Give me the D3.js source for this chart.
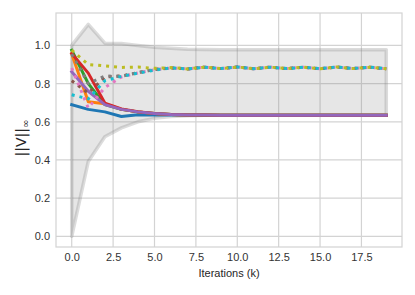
<!DOCTYPE html>
<html><head><meta charset="utf-8">
<script src="https://cdn.jsdelivr.net/npm/d3@7"></script>
<style>body{margin:0;background:#fff}svg{display:block}</style>
</head><body>
<svg id="c" width="415" height="295"></svg>
<script>
const iterations = d3.range(0, 20);
const xTicks = [0, 2.5, 5, 7.5, 10, 12.5, 15, 17.5];
const yTicks = [0, 0.2, 0.4, 0.6, 0.8, 1.0];

const bandUpper = [1.0, 1.11, 1.012, 1.01, 1.0, 0.99, 0.985, 0.98, 0.979, 0.978, 0.978, 0.978, 0.978, 0.978, 0.978, 0.978, 0.978, 0.978, 0.978, 0.978];
const bandLower = [0.0, 0.392, 0.522, 0.568, 0.6, 0.618, 0.628, 0.632, 0.634, 0.634, 0.634, 0.634, 0.634, 0.634, 0.634, 0.634, 0.634, 0.634, 0.634, 0.634];

const solidTail = [0.634, 0.634, 0.634, 0.634, 0.634, 0.634, 0.634, 0.634, 0.634, 0.634, 0.634];
const dotTail = [0.877, 0.886, 0.879, 0.887, 0.878, 0.886, 0.879, 0.886, 0.878, 0.887, 0.879, 0.886, 0.878];

const seriesBlue   = [0.69, 0.665, 0.652, 0.628, 0.637, 0.636, 0.635, 0.635, 0.634].concat(solidTail);
const seriesOrange = [0.955, 0.705, 0.695, 0.665, 0.652, 0.643, 0.638, 0.636, 0.635].concat(solidTail);
const seriesGreen  = [0.975, 0.8, 0.69, 0.665, 0.652, 0.643, 0.638, 0.636, 0.635].concat(solidTail);
const seriesRed    = [0.958, 0.855, 0.698, 0.667, 0.653, 0.644, 0.638, 0.636, 0.635].concat(solidTail);
const seriesPurple = [0.862, 0.76, 0.69, 0.665, 0.652, 0.643, 0.638, 0.636, 0.635].concat(solidTail);
const seriesBrown  = [0.815, 0.75, 0.835, 0.84, 0.857, 0.874, 0.882].concat(dotTail);
const seriesPink   = [0.882, 0.672, 0.78, 0.835, 0.856, 0.873, 0.882].concat(dotTail);
const seriesGray   = [0.955, 0.8, 0.84, 0.838, 0.858, 0.875, 0.883].concat(dotTail);
const seriesOlive  = [0.975, 0.9, 0.893, 0.885, 0.887, 0.88, 0.884].concat(dotTail);
const seriesCyan   = [0.742, 0.72, 0.815, 0.838, 0.855, 0.871, 0.882].concat(dotTail);

const series = [
  {v: seriesBlue, c: "#1f77b4", dot: false},
  {v: seriesOrange, c: "#ff7f0e", dot: false},
  {v: seriesGreen, c: "#2ca02c", dot: false},
  {v: seriesRed, c: "#d62728", dot: false},
  {v: seriesPurple, c: "#9467bd", dot: false},
  {v: seriesBrown, c: "#8c564b", dot: true},
  {v: seriesPink, c: "#e377c2", dot: true},
  {v: seriesGray, c: "#7f7f7f", dot: true},
  {v: seriesOlive, c: "#bcbd22", dot: true},
  {v: seriesCyan, c: "#17becf", dot: true}
];

const svg = d3.select("#c");
const L = 56, R = 402, T = 13, B = 247;
const x = d3.scaleLinear().domain([-0.95, 19.95]).range([L, R]);
const y = d3.scaleLinear().domain([-0.056, 1.17]).range([B, T]);

// grid
const g = svg.append("g");
g.selectAll(".gx").data(xTicks).join("line")
  .attr("x1", d => x(d)).attr("x2", d => x(d)).attr("y1", T).attr("y2", B)
  .attr("stroke", "#d3d3d3").attr("stroke-width", 1.2);
g.selectAll(".gy").data(yTicks).join("line")
  .attr("y1", d => y(d)).attr("y2", d => y(d)).attr("x1", L).attr("x2", R)
  .attr("stroke", "#d3d3d3").attr("stroke-width", 1.2);

// band
const area = d3.area().x((d, i) => x(iterations[i])).y0((d, i) => y(bandLower[i])).y1(d => y(d));
const bandPts = iterations.map(i => [x(i), y(bandUpper[i])]).concat(iterations.slice().reverse().map(i => [x(i), y(bandLower[i])]));
svg.append("path").attr("d", area(bandUpper))
  .attr("fill", "#808080").attr("fill-opacity", 0.2);
svg.append("path").attr("d", "M" + bandPts.join("L") + "Z")
  .attr("fill", "none").attr("stroke", "#808080").attr("stroke-opacity", 0.28)
  .attr("stroke-width", 3.5).attr("stroke-linejoin", "round");

// lines
const line = d3.line().x((d, i) => x(iterations[i])).y(d => y(d));
series.forEach(s => {
  svg.append("path").attr("d", line(s.v)).attr("fill", "none")
    .attr("stroke", s.c).attr("stroke-width", 3)
    .attr("stroke-dasharray", s.dot ? "3,4.95" : null)
    .attr("stroke-linejoin", "round").attr("stroke-linecap", s.dot ? "butt" : "square");
});

// frame
svg.append("rect").attr("x", L).attr("y", T).attr("width", R - L).attr("height", B - T)
  .attr("fill", "none").attr("stroke", "#d3d3d3").attr("stroke-width", 1.2);

// axes (labels only)
const xa = svg.append("g").attr("transform", `translate(0,${B})`)
  .call(d3.axisBottom(x).tickValues(xTicks).tickFormat(d3.format(".1f")).tickSize(0).tickPadding(6));
const ya = svg.append("g").attr("transform", `translate(${L},0)`)
  .call(d3.axisLeft(y).tickValues(yTicks).tickFormat(d3.format(".1f")).tickSize(0).tickPadding(6));
[xa, ya].forEach(a => {
  a.select(".domain").remove();
  a.selectAll("text").attr("font-family", "Liberation Sans, Arial, sans-serif").attr("font-size", 11).attr("fill", "#333");
});

svg.append("text").attr("x", (L + R) / 2).attr("y", 277).attr("text-anchor", "middle")
  .attr("font-family", "Liberation Sans, Arial, sans-serif").attr("font-size", 11).attr("fill", "#262626")
  .text("Iterations (k)");

const yl = svg.append("text").attr("transform", `translate(26,${(T + B) / 2 + 8}) rotate(-90)`)
  .attr("text-anchor", "middle")
  .attr("font-family", "DejaVu Sans, sans-serif").attr("font-size", 14).attr("fill", "#262626");
yl.append("tspan").text("||V||");
yl.append("tspan").attr("font-size", 10).attr("dy", 3).text("∞");
</script>
</body></html>
